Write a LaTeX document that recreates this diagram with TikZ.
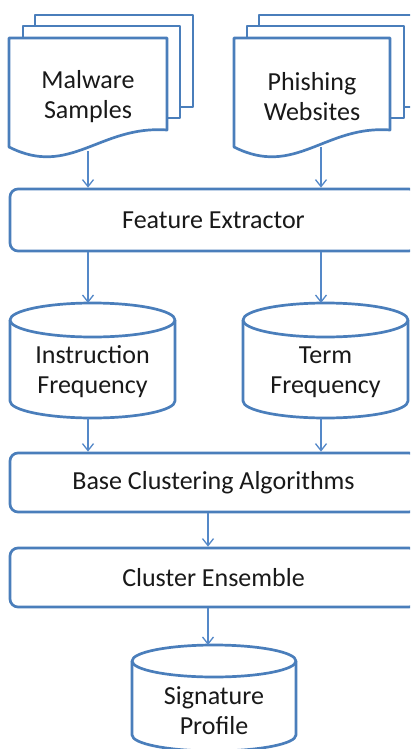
\documentclass[tikz,border=0pt]{standalone}
\usepackage{fontspec}
\setmainfont{Carlito}
\usetikzlibrary{arrows.meta}
\definecolor{obord}{RGB}{74,126,187}
\definecolor{oarrow}{RGB}{84,136,200}
\tikzset{
  shp/.style={draw=obord, line width=2.7pt, fill=white, line join=round},
  box/.style={shp, rounded corners=8pt, minimum width=407pt, minimum height=59pt, inner sep=0pt},
  lbl/.style={align=center, font=\fontsize{26}{30}\selectfont, text=black!90, inner sep=0pt},
  arr/.style={draw=oarrow, line width=1.3pt, -{Straight Barb[length=7pt,width=11pt,line width=1.3pt]}},
}
\begin{document}
\begin{tikzpicture}[x=1pt,y=1pt]
\useasboundingbox (0,0) rectangle (410,-749);
\clip (0,0) rectangle (410,-749);
% Malware samples stack
\path[shp] (35,-15) rectangle (193,-107);
\path[shp] (23,-26) rectangle (180,-118);
\path[shp] (9,-38) -- (167,-38) -- (167,-130) .. controls (100,-125) and (70,-178) .. (9,-147) -- cycle;
\node[lbl] (mal) at (88,-97) {Malware\\Samples};
% Phishing websites stack
\path[shp] (259,-15) rectangle (425,-107);
\path[shp] (247,-26) rectangle (404,-118);
\path[shp] (234,-38) -- (390,-38) -- (390,-130) .. controls (325,-125) and (295,-178) .. (234,-147) -- cycle;
\node[lbl] (phi) at (312,-97) {Phishing\\Websites};
\coordinate (malout) at (88,-151);
\coordinate (phiout) at (321,-147);
% Feature extractor
\node[box, minimum height=62pt] (fe) at (213.5,-220) {};
\node[lbl] (fet) at (fe.center) {Feature Extractor};
% Cylinders
\path[shp] (10,-320) -- (10,-401) arc[start angle=180,end angle=360,x radius=82.5pt,y radius=17pt] -- (175,-320);
\path[shp] (92.5,-320) ellipse [x radius=82.5pt, y radius=17pt];
\node[lbl] (inf) at (92.5,-372) {Instruction\\Frequency};
\coordinate (inftop) at (88,-303);
\coordinate (infbot) at (88,-418);
\path[shp] (243,-320) -- (243,-401) arc[start angle=180,end angle=360,x radius=82.5pt,y radius=17pt] -- (408,-320);
\path[shp] (325.5,-320) ellipse [x radius=82.5pt, y radius=17pt];
\node[lbl] (tf) at (325.5,-372) {Term\\Frequency};
\coordinate (tftop) at (321,-303);
\coordinate (tfbot) at (321,-418);
% Base clustering
\node[box] (bc) at (213.5,-482.5) {};
\node[lbl] (bct) at (bc.center) {Base Clustering Algorithms};
% Cluster ensemble
\node[box] (ce) at (213.5,-577.5) {};
\node[lbl] (cet) at (ce.center) {Cluster Ensemble};
% Signature profile
\path[shp] (132,-661) -- (132,-735) arc[start angle=180,end angle=360,x radius=82pt,y radius=16pt] -- (296,-661);
\path[shp] (214,-661) ellipse [x radius=82pt, y radius=16pt];
\node[lbl] (sp) at (214,-711) {Signature\\Profile};
\coordinate (sptop) at (208,-645);
% connectors
\draw[arr] (malout) -- (malout |- fe.north);
\draw[arr] (phiout) -- (phiout |- fe.north);
\draw[arr] (inftop |- fe.south) -- (inftop);
\draw[arr] (tftop |- fe.south) -- (tftop);
\draw[arr] (infbot) -- (infbot |- bc.north);
\draw[arr] (tfbot) -- (tfbot |- bc.north);
\draw[arr] (sptop |- bc.south) -- (sptop |- ce.north);
\draw[arr] (sptop |- ce.south) -- (sptop);
\end{tikzpicture}
\end{document}
